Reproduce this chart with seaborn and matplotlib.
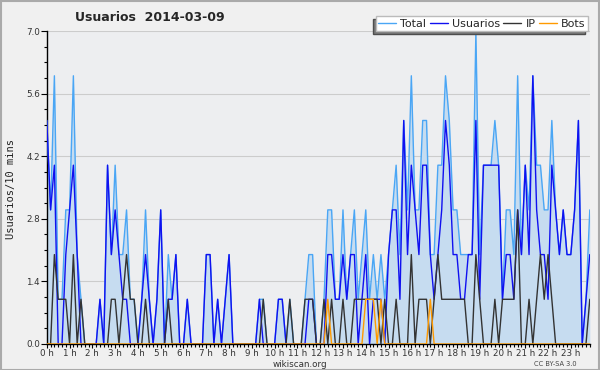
import numpy as np
import pandas as pd
import seaborn as sns
import matplotlib.pyplot as plt
from matplotlib.patches import Rectangle

# valores cada 10 minutos (144 intervalos)
total = [5, 3, 6, 1, 1, 3, 3, 6, 2, 1, 0, 0,
         0, 0, 1, 0, 4, 2, 4, 2, 2, 3, 1, 1,
         0, 1, 3, 1, 0, 1, 3, 0, 2, 1, 2, 0,
         0, 1, 0, 0, 0, 0, 2, 2, 0, 1, 0, 1,
         2, 0, 0, 0, 0, 0, 0, 0, 1, 1, 0, 0,
         0, 1, 1, 0, 1, 0, 0, 0, 1, 2, 2, 0,
         0, 1, 3, 3, 1, 1, 3, 1, 2, 3, 1, 2,
         3, 1, 2, 1, 2, 1, 2, 3, 4, 2, 5, 3,
         6, 3, 3, 5, 5, 2, 2, 4, 4, 6, 5, 3,
         3, 2, 2, 2, 2, 7, 2, 4, 4, 4, 5, 4,
         1, 3, 3, 2, 6, 2, 4, 3, 6, 4, 4, 3,
         3, 5, 3, 2, 3, 2, 2, 3, 5, 0, 1, 3]
usuarios = [5, 3, 4, 0, 0, 2, 3, 4, 2, 0, 0, 0,
            0, 0, 1, 0, 4, 2, 3, 2, 1, 1, 0, 0,
            0, 1, 2, 1, 0, 1, 3, 0, 1, 1, 2, 0,
            0, 1, 0, 0, 0, 0, 2, 2, 0, 1, 0, 1,
            2, 0, 0, 0, 0, 0, 0, 0, 1, 0, 0, 0,
            0, 1, 1, 0, 0, 0, 0, 0, 0, 1, 1, 0,
            0, 0, 2, 2, 1, 1, 2, 1, 2, 2, 0, 1,
            2, 0, 1, 1, 1, 0, 2, 3, 3, 1, 5, 2,
            4, 3, 2, 4, 4, 2, 1, 2, 3, 5, 4, 2,
            2, 1, 1, 2, 2, 5, 1, 4, 4, 4, 4, 4,
            1, 2, 2, 1, 3, 2, 4, 2, 6, 3, 2, 2,
            1, 4, 3, 2, 3, 2, 2, 3, 5, 0, 1, 2]
ip = [0, 0, 2, 1, 1, 1, 0, 2, 0, 1, 0, 0,
      0, 0, 0, 0, 0, 1, 1, 0, 1, 2, 1, 1,
      0, 0, 1, 0, 0, 0, 0, 0, 1, 0, 0, 0,
      0, 0, 0, 0, 0, 0, 0, 0, 0, 0, 0, 0,
      0, 0, 0, 0, 0, 0, 0, 0, 0, 1, 0, 0,
      0, 0, 0, 0, 1, 0, 0, 0, 1, 1, 1, 0,
      0, 1, 0, 1, 0, 0, 1, 0, 0, 1, 1, 1,
      1, 1, 1, 1, 0, 1, 0, 0, 1, 0, 0, 0,
      2, 0, 1, 1, 1, 0, 1, 2, 1, 1, 1, 1,
      1, 1, 1, 0, 0, 2, 1, 0, 0, 0, 1, 0,
      1, 1, 1, 1, 3, 0, 0, 1, 0, 1, 2, 1,
      2, 1, 0, 0, 0, 0, 0, 0, 0, 0, 0, 1]
bots = [0] * 144
for k in [74, 84, 85, 86, 88, 101]:
    bots[k] = 1

hour_labels = [f"{h} h" for h in range(24)]

df = pd.DataFrame({"slot": np.arange(144), "Total": total, "Usuarios": usuarios,
                   "IP": ip, "Bots": bots})

sns.set_theme(style="ticks")
plt.rcParams['font.family'] = ['DejaVu Sans']

fig = plt.figure(figsize=(6, 3.7), dpi=100, facecolor="#f0f0f0")
ax = fig.add_axes([0.078, 0.0703, 0.905, 0.8457])
ax.set_facecolor("#edeef0")

ax.fill_between(df["slot"], df["Total"], color="#c6dcf0", lw=0, zorder=1)
colors = {"Total": "#4aa6f5", "Usuarios": "#1010f0", "IP": "#333333", "Bots": "#ff9a00"}
for name in ["Total", "Usuarios", "IP", "Bots"]:
    sns.lineplot(data=df, x="slot", y=name, ax=ax, color=colors[name], lw=1.0,
                 label=name, zorder=3)

ax.set_xlim(0, 143)
ax.set_ylim(0, 7)
ax.set_yticks(np.arange(0, 7.01, 1.4))
ax.set_yticklabels([f"{v:.1f}" for v in np.arange(0, 7.01, 1.4)])
ax.set_yticks(np.arange(0, 7.01, 0.35), minor=True)
ax.set_xticks(np.arange(0, 144, 6))
ax.set_xticklabels(hour_labels)
ax.set_xticks(np.arange(0, 144, 1), minor=True)
ax.grid(axis="y", color="#cccccc", lw=0.8)
ax.set_axisbelow(True)
for s in ["top", "right"]:
    ax.spines[s].set_visible(False)
for s in ["left", "bottom"]:
    ax.spines[s].set_color("black")
    ax.spines[s].set_linewidth(1.0)
ax.tick_params(axis="y", which="major", labelsize=6.3, length=4, width=0.8,
               color="black", labelcolor="#333333", pad=1)
ax.tick_params(axis="x", which="major", labelsize=6.3, length=3, width=0.8,
               color="black", labelcolor="#333333", pad=0.5)
ax.tick_params(axis="both", which="minor", length=2.5, width=0.8, color="black")
ax.set_xlabel("")
ax.set_ylabel("")

fig.text(0.25, 0.954, "Usuarios  2014-03-09", ha="center", va="center",
         fontsize=9, fontweight="bold")
fig.text(0.018, 0.49, "Usuarios/10 mins", rotation=90, ha="center", va="center",
         fontsize=7.5, family="DejaVu Sans Mono", color="#222222")
fig.text(0.5, 0.014, "wikiscan.org", ha="center", va="center", fontsize=6.3,
         color="#333333")
fig.text(0.925, 0.016, "CC BY-SA 3.0", ha="center", va="center", fontsize=4.8,
         color="#444444")

ax.legend(loc="upper right", bbox_to_anchor=(0.98, 0.956),
          bbox_transform=fig.transFigure, ncol=4, fontsize=8, frameon=True,
          fancybox=False, edgecolor="#bbbbbb", facecolor="white", framealpha=1,
          handlelength=1.6, handletextpad=0.4, columnspacing=0.3,
          borderpad=0.2, borderaxespad=0,
          shadow={"ox": -2.2, "oy": -2.2, "facecolor": "#7a7a7a", "alpha": 1})

fig.patches.append(Rectangle((0.001, 0.001), 0.997, 0.996, transform=fig.transFigure,
                             fill=False, edgecolor="#aaaaaa", lw=1.5))

fig.savefig("out.png", dpi=100, facecolor=fig.get_facecolor())
